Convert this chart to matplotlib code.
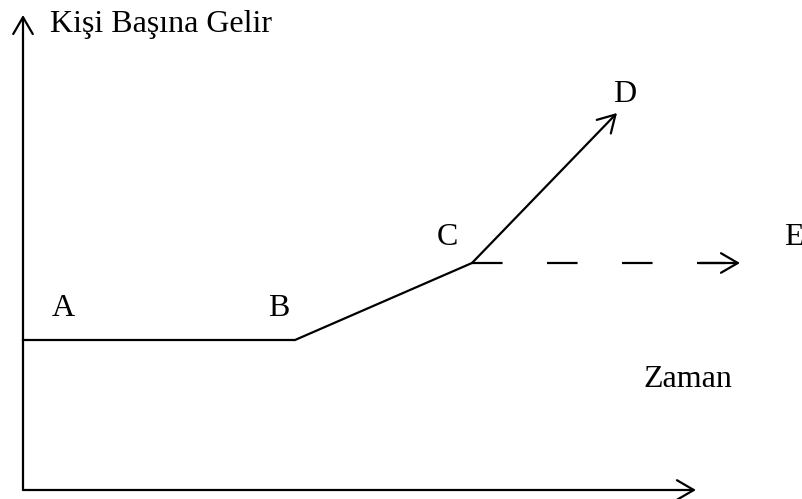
import matplotlib
matplotlib.use('Agg')
import matplotlib.pyplot as plt

plt.rcParams['font.family'] = ['Liberation Serif', 'DejaVu Serif']
plt.rcParams['lines.scale_dashes'] = False

# path points (time, income), origin at the axis corner
path_x = [0, 272, 449]
path_y = [150, 150, 227]
d_point = (594, 377)
e_point = (717, 227)
axis_x_end = 673
axis_y_end = 475

point_labels = ['A', 'B', 'C', 'D', 'E']
label_x = [40, 256, 424, 602, 771]
label_y = [174, 174, 245, 388, 245]

fig = plt.figure(figsize=(8.02, 4.99), dpi=100)
ax = fig.add_axes([0, 0, 1, 1])
ax.set_xlim(-23, 779)
ax.set_ylim(-9, 490)
ax.axis('off')

black = dict(arrowstyle='->,head_length=0.55,head_width=0.32', color='black', lw=1.6,
             mutation_scale=22, shrinkA=0, shrinkB=0)

# axes
ax.annotate('', xy=(axis_x_end, 0), xytext=(0, 0), arrowprops=black)
ax.annotate('', xy=(0, axis_y_end), xytext=(0, 0), arrowprops=black)

# A-B-C
ax.plot(path_x, path_y, color='black', lw=1.6, solid_joinstyle='miter')

# C-D
ax.annotate('', xy=d_point, xytext=(path_x[-1], path_y[-1]), arrowprops=black)

# C-E dashed
ax.plot([path_x[-1], e_point[0] - 15], [path_y[-1], e_point[1]], color='black', lw=1.6,
        dashes=(22, 32))
ax.annotate('', xy=e_point, xytext=(e_point[0] - 40, e_point[1]), arrowprops=black)

for lab, lx, ly in zip(point_labels, label_x, label_y):
    ax.text(lx, ly, lab, fontsize=23, ha='center', va='baseline')

ax.text(27, 458, 'Kişi Başına Gelir', fontsize=23, ha='left', va='baseline')
ax.text(665, 103, 'Zaman', fontsize=23, ha='center', va='baseline')

fig.savefig('out.png', dpi=100)
